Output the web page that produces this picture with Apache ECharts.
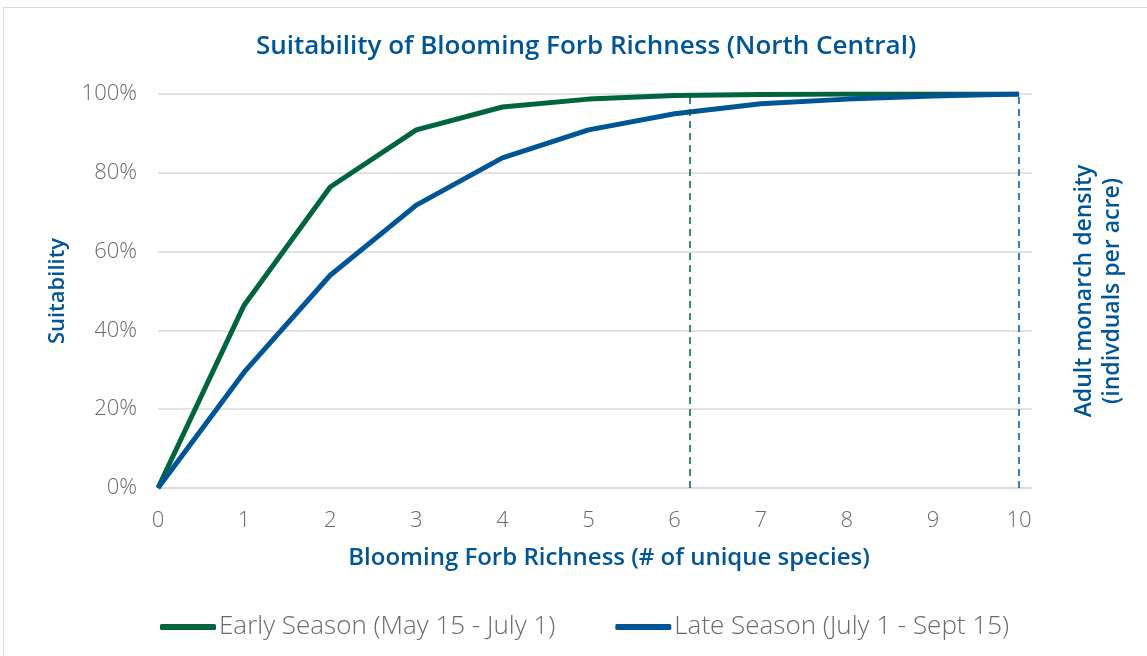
<!DOCTYPE html>
<html>
<head>
<meta charset="utf-8">
<script src="https://cdn.jsdelivr.net/npm/echarts@6/dist/echarts.min.js"></script>
<style>
  html, body { margin: 0; padding: 0; background: #fff; overflow: hidden; }
  #frame { position: absolute; left: 3px; top: 7px; width: 1160px; height: 670px; border: 1px solid #d9d9d9; }
  #chart { position: absolute; left: 0; top: 0; width: 1147px; height: 656px; }
</style>
</head>
<body>
<div id="frame"></div>
<div id="chart"></div>
<script>
const richness = [0, 1, 2, 3, 4, 5, 6, 7, 8, 9, 10]
const earlySeason = [0, 46.4, 76.4, 90.9, 96.7, 98.7, 99.6, 99.9, 100, 100, 100]
const lateSeason = [0, 29.4, 54, 71.8, 83.8, 90.9, 95, 97.5, 98.7, 99.5, 100]
const earlyThreshold = 6.18
const lateThreshold = 10

const green = '#00643c'
const blue = '#005596'
const gray = '#6a6a6a'
const font = '"Open Sans", "Noto Sans", sans-serif'

const chart = echarts.init(document.getElementById('chart'))

const option = {
  backgroundColor: 'transparent',
  animation: false,
  title: {
    text: 'Suitability of Blooming Forb Richness (North Central)',
    left: 581,
    textAlign: 'center',
    top: 29,
    textStyle: { color: blue, fontSize: 26, fontWeight: 600, fontFamily: font }
  },
  legend: {
    bottom: 16,
    left: 160,
    padding: 0,
    icon: 'roundRect',
    itemWidth: 56,
    itemHeight: 6,
    itemGap: 60,
    textStyle: { color: gray, fontSize: 26, fontFamily: font, fontWeight: 300, padding: [0, 0, 0, -2] },
    data: ['Early Season (May 15 - July 1)', 'Late Season (July 1 - Sept 15)']
  },
  grid: { left: 158, right: 115, top: 94, bottom: 168 },
  xAxis: {
    type: 'value',
    min: 0,
    max: 10.15,
    interval: 1,
    name: 'Blooming Forb Richness (# of unique species)',
    nameLocation: 'middle',
    nameGap: 58,
    nameTextStyle: { color: blue, fontSize: 24, fontWeight: 600, fontFamily: font, padding: [0, 0, 0, 28] },
    axisLine: { show: true, lineStyle: { color: '#d9d9d9', width: 1.5 } },
    axisTick: { show: false },
    splitLine: { show: false },
    axisLabel: { color: gray, fontSize: 22, fontFamily: font, fontWeight: 300, margin: 22, showMaxLabel: false }
  },
  yAxis: [
    {
      type: 'value',
      min: 0,
      max: 100,
      interval: 20,
      name: 'Suitability',
      nameLocation: 'middle',
      nameGap: 89,
      nameTextStyle: { color: blue, fontSize: 22, fontWeight: 600, fontFamily: font },
      axisLine: { show: false },
      axisTick: { show: false },
      splitLine: { lineStyle: { color: '#d9d9d9', width: 1.5 } },
      axisLabel: { color: gray, fontSize: 22, fontFamily: font, fontWeight: 300, margin: 21, formatter: '{value}%' }
    },
    {
      type: 'value',
      min: 0,
      max: 100,
      position: 'right',
      name: 'Adult monarch density\n(indivduals per acre)',
      nameLocation: 'middle',
      nameGap: 38,
      nameRotate: 90,
      nameTextStyle: { color: blue, fontSize: 23, fontWeight: 600, fontFamily: font, lineHeight: 28 },
      axisLine: { show: false },
      axisTick: { show: false },
      axisLabel: { show: false },
      splitLine: { show: false }
    }
  ],
  series: [
    {
      name: 'Early Season (May 15 - July 1)',
      type: 'line',
      data: richness.map((x, i) => [x, earlySeason[i]]),
      showSymbol: false,
      lineStyle: { color: green, width: 5 },
      itemStyle: { color: green },
      z: 3,
      markLine: {
        silent: true,
        symbol: 'none',
        label: { show: false },
        lineStyle: { color: green, type: [7, 5], width: 1.5 },
        data: [[{ coord: [earlyThreshold, 0] }, { coord: [earlyThreshold, 100] }]]
      }
    },
    {
      name: 'Late Season (July 1 - Sept 15)',
      type: 'line',
      data: richness.map((x, i) => [x, lateSeason[i]]),
      showSymbol: false,
      lineStyle: { color: blue, width: 5 },
      itemStyle: { color: blue },
      z: 4,
      markLine: {
        silent: true,
        symbol: 'none',
        label: { show: false },
        lineStyle: { color: blue, type: [7, 5], width: 1.5 },
        data: [[{ coord: [lateThreshold, 0] }, { coord: [lateThreshold, 100] }]]
      }
    }
  ]
}
option && chart.setOption(option)
</script>
</body>
</html>
